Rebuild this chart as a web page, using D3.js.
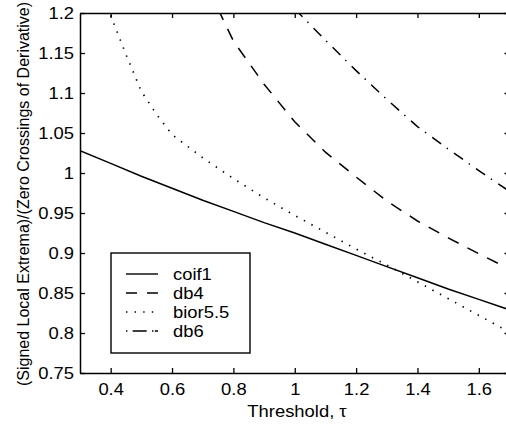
<!DOCTYPE html>
<html>
<head>
<meta charset="utf-8">
<script src="https://cdn.jsdelivr.net/npm/d3@7"></script>
<style>
  body { margin: 0; background: #fff; }
  text { font-family: "Liberation Sans", Arial, Helvetica, sans-serif; fill: #000; }
</style>
</head>
<body>
<figure id="chart" style="margin:0"></figure>
<script>
// values
const seriesNames = ["coif1", "db4", "bior5.5", "db6"];

const coif1X = [0.3, 0.4, 0.5, 0.6, 0.7, 0.8, 0.9, 1.0, 1.1, 1.2, 1.3, 1.4, 1.5, 1.6, 1.7];
const coif1Y = [1.028, 1.012, 0.996, 0.981, 0.966, 0.952, 0.938, 0.925, 0.911, 0.897, 0.883, 0.869, 0.855, 0.842, 0.829];

const db4X = [0.75, 0.8, 0.9, 1.0, 1.1, 1.2, 1.3, 1.4, 1.5, 1.6, 1.7];
const db4Y = [1.205, 1.165, 1.111, 1.064, 1.026, 0.995, 0.965, 0.940, 0.919, 0.899, 0.880];

const biorX = [0.39, 0.4, 0.45, 0.5, 0.55, 0.6, 0.7, 0.8, 0.9, 1.0, 1.1, 1.2, 1.3, 1.4, 1.5, 1.6, 1.7];
const biorY = [1.207, 1.197, 1.148, 1.102, 1.073, 1.048, 1.019, 0.993, 0.969, 0.947, 0.926, 0.905, 0.885, 0.864, 0.843, 0.822, 0.801];

const db6X = [1.0, 1.1, 1.2, 1.3, 1.4, 1.5, 1.6, 1.7];
const db6Y = [1.205, 1.166, 1.128, 1.092, 1.058, 1.030, 1.003, 0.977];

const xTicks = [0.4, 0.6, 0.8, 1.0, 1.2, 1.4, 1.6];
const xTickLabels = ["0.4", "0.6", "0.8", "1", "1.2", "1.4", "1.6"];
const yTicks = [0.75, 0.8, 0.85, 0.9, 0.95, 1.0, 1.05, 1.1, 1.15, 1.2];
const yTickLabels = ["0.75", "0.8", "0.85", "0.9", "0.95", "1", "1.05", "1.1", "1.15", "1.2"];

const W = 506, H = 424;
const mLeft = 80, mRight = 509.5, mTop = 13, mBottom = 373;
const stretch = "scale(1.15,1)";

const svg = d3.select("#chart").append("svg")
  .attr("width", W).attr("height", H);

const x = d3.scaleLinear().domain([0.3, 1.7]).range([mLeft, mRight]);
const y = d3.scaleLinear().domain([0.75, 1.2]).range([mBottom, mTop]);

svg.append("clipPath").attr("id", "plot")
  .append("rect").attr("x", mLeft).attr("y", mTop)
  .attr("width", mRight - mLeft).attr("height", mBottom - mTop);

// series styles
const dash = {
  "coif1": null,
  "db4": "12,10",
  "bior5.5": "1.4,7.2",
  "db6": "11,7,1.4,7.5"
};
const series = [
  { name: "coif1", xs: coif1X, ys: coif1Y },
  { name: "db4", xs: db4X, ys: db4Y },
  { name: "bior5.5", xs: biorX, ys: biorY },
  { name: "db6", xs: db6X, ys: db6Y }
];

const line = d3.line().x(d => x(d[0])).y(d => y(d[1]));

svg.append("g").attr("clip-path", "url(#plot)")
  .selectAll("path")
  .data(series)
  .enter()
  .append("path")
  .attr("d", s => line(d3.zip(s.xs, s.ys)))
  .attr("fill", "none")
  .attr("stroke", "#000")
  .attr("stroke-width", s => s.name === "bior5.5" ? 1.7 : 1.5)
  .attr("stroke-dasharray", s => dash[s.name]);

// axes, matlab-like box with inward ticks
function styleAxis(g) {
  g.selectAll(".domain").attr("stroke", "#000").attr("stroke-width", 1.5);
  g.selectAll(".tick line").attr("stroke", "#000").attr("stroke-width", 1.3);
}

const xAxis = svg.append("g")
  .attr("transform", `translate(0,${mBottom})`)
  .call(d3.axisBottom(x).tickValues(xTicks).tickSizeInner(-5).tickSizeOuter(0)
    .tickFormat((d, i) => xTickLabels[i]));
xAxis.call(styleAxis);
xAxis.selectAll("text")
  .attr("y", 22).attr("dy", null)
  .attr("transform", stretch)
  .style("font-size", "16px");

svg.append("g")
  .attr("transform", `translate(0,${mTop})`)
  .call(d3.axisTop(x).tickValues(xTicks).tickSizeInner(-5).tickSizeOuter(0).tickFormat(""))
  .call(styleAxis);

const yAxis = svg.append("g")
  .attr("transform", `translate(${mLeft},0)`)
  .call(d3.axisLeft(y).tickValues(yTicks).tickSizeInner(-5).tickSizeOuter(0)
    .tickFormat((d, i) => yTickLabels[i]));
yAxis.call(styleAxis);
yAxis.selectAll("text")
  .attr("x", -5.2)
  .attr("transform", stretch)
  .style("font-size", "16px");

svg.append("g")
  .attr("transform", `translate(${mRight},0)`)
  .call(d3.axisRight(y).tickValues(yTicks).tickSizeInner(-5).tickSizeOuter(0).tickFormat(""))
  .call(styleAxis);

// axis titles
svg.append("g")
  .attr("transform", `translate(297,417) ${stretch}`)
  .append("text")
  .attr("text-anchor", "middle")
  .style("font-size", "16px")
  .text("Threshold, τ");

svg.append("text")
  .attr("transform", "translate(29,194) rotate(-90)")
  .attr("text-anchor", "middle")
  .style("font-size", "16px")
  .text("(Signed Local Extrema)/(Zero Crossings of Derivative)");

// legend
const legend = svg.append("g");
legend.append("rect")
  .attr("x", 111).attr("y", 253)
  .attr("width", 139).attr("height", 100)
  .attr("fill", "#fff")
  .attr("stroke", "#000")
  .attr("stroke-width", 1.4);

const rows = legend.selectAll(".row")
  .data(series)
  .enter()
  .append("g")
  .attr("class", "row")
  .attr("transform", (d, i) => `translate(0,${274 + i * 19})`);

rows.append("line")
  .attr("x1", 126).attr("x2", 158)
  .attr("stroke", "#000")
  .attr("stroke-width", s => s.name === "bior5.5" ? 1.6 : 1.4)
  .attr("stroke-dasharray", s => s.name === "db4" ? "11,10" :
    s.name === "db6" ? "1.4,5.3,14,5.3,1.4" : dash[s.name]);

rows.append("g")
  .attr("transform", `translate(173,5.5) ${stretch}`)
  .append("text")
  .style("font-size", "16px")
  .text(s => s.name);
</script>
</body>
</html>
